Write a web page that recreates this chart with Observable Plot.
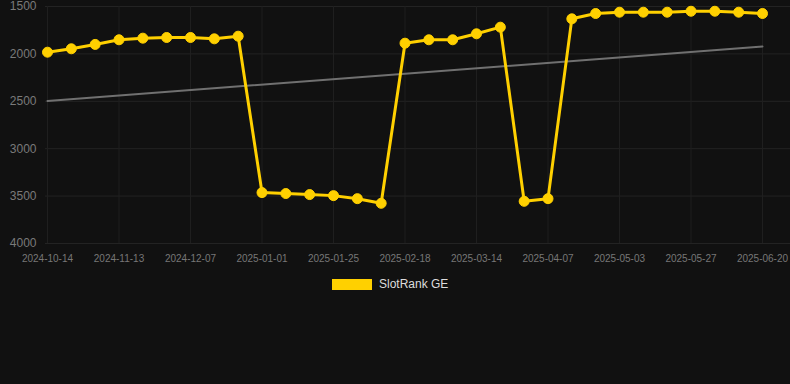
<!DOCTYPE html>
<html>
<head>
<meta charset="utf-8">
<script src="https://cdn.jsdelivr.net/npm/d3@7"></script>
<script src="https://cdn.jsdelivr.net/npm/@observablehq/plot@0.6"></script>
<style>
html, body { margin: 0; padding: 0; background: #111111; }
body { width: 790px; height: 384px; overflow: hidden; font-family: "Liberation Sans", Arial, sans-serif; }
#chart svg { display: block; background: #111111; }
#legend { display: flex; align-items: center; padding-top: 10px; padding-left: 332px; height: 12px; }
#legend .sw { width: 40px; height: 11px; background: #FFD000; margin-right: 7px; }
#legend .lb { font-size: 12px; color: #dddddd; line-height: 12px; }
</style>
</head>
<body>
<div id="chart"></div>
<div id="legend"><div class="sw"></div><div class="lb">SlotRank GE</div></div>
<script>
const dates = [
  "2024-10-14","2024-10-24","2024-11-03","2024-11-13","2024-11-21","2024-11-29",
  "2024-12-07","2024-12-15","2024-12-23","2025-01-01","2025-01-09","2025-01-17",
  "2025-01-25","2025-02-02","2025-02-10","2025-02-18","2025-02-26","2025-03-06",
  "2025-03-14","2025-03-22","2025-03-30","2025-04-07","2025-04-16","2025-04-25",
  "2025-05-03","2025-05-11","2025-05-19","2025-05-27","2025-06-04","2025-06-12",
  "2025-06-20"
];
const ranks = [
  1982, 1946, 1900, 1851, 1834, 1827,
  1827, 1841, 1813, 3463, 3473, 3484,
  3495, 3527, 3576, 1887, 1851, 1851,
  1788, 1718, 3555, 3527, 1630, 1574,
  1560, 1560, 1560, 1550, 1550, 1560,
  1574
];
const yTicks = [1500, 2000, 2500, 3000, 3500, 4000];
const trendValues = [2497, 1922];

// categorical positions (one slot per date)
const data = dates.map((d, i) => ({idx: i, date: d, rank: ranks[i]}));
const tickIdx = data.filter(d => d.idx % 3 === 0).map(d => d.idx);
const trend = [{idx: 0, rank: trendValues[0]}, {idx: dates.length - 1, rank: trendValues[1]}];

const chart = Plot.plot({
  width: 790,
  height: 268,
  marginLeft: 47,
  marginRight: 28,
  marginTop: 6,
  marginBottom: 25,
  style: {background: "#111111", fontFamily: "Liberation Sans, Arial, sans-serif"},
  x: {type: "linear", domain: [0, dates.length - 1]},
  y: {domain: [1500, 4000], reverse: true},
  marks: [
    Plot.ruleY(yTicks, {stroke: "#232323", strokeWidth: 1, insetLeft: -2, insetRight: -28}),
    Plot.ruleX(tickIdx, {y1: 1500, y2: 4000, stroke: "#1f1f1f", strokeWidth: 1}),
    Plot.axisY({ticks: yTicks, tickFormat: d => String(d), tickSize: 0, tickPadding: 11, fontSize: 12, color: "#7a7a7a", label: null}),
    Plot.axisX({ticks: tickIdx, tickFormat: i => dates[i], tickSize: 0, tickPadding: 11, fontSize: 10, color: "#777777", label: null}),
    Plot.line(trend, {x: "idx", y: "rank", stroke: "#707070", strokeWidth: 2}),
    Plot.line(data, {x: "idx", y: "rank", stroke: "#FFD000", strokeWidth: 3}),
    Plot.dot(data, {x: "idx", y: "rank", r: 5, fill: "#FFD000", stroke: "#FFD000", strokeWidth: 1})
  ]
});
document.getElementById("chart").appendChild(chart);
</script>
</body>
</html>
